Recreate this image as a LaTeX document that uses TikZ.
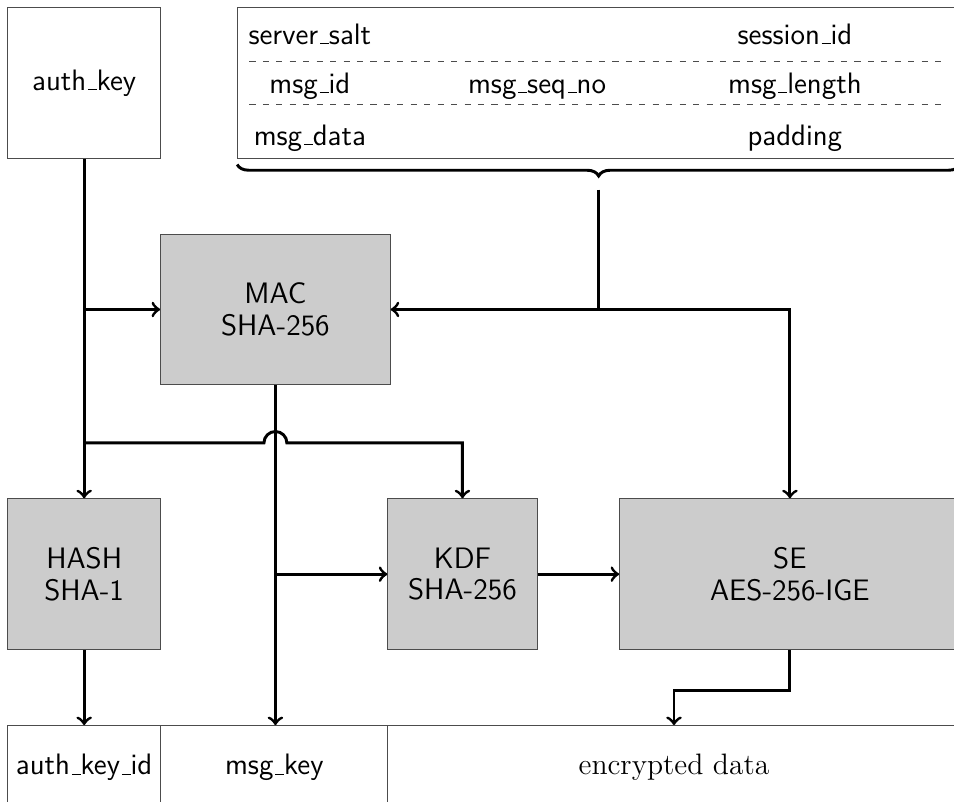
\documentclass[tikz,border=0pt]{standalone}
\usetikzlibrary{decorations.pathreplacing,calc}
\newcommand{\usc}{\leavevmode\kern.06em\vbox{\hrule width.3em}}
\tikzset{
  box/.style={draw=black!70,thin,rectangle,inner sep=0pt,align=center,font=\sffamily\fontsize{11}{11.8}\selectfont},
  proc/.style={box,fill=black!20},
  field/.style={font=\sffamily\fontsize{11}{11.8}\selectfont,text height=8pt,text depth=2.5pt},
  sep/.style={draw=black!70,thin,dash pattern=on 2.3pt off 2.7pt},
  conn/.style={line width=1.1pt,->},
}
\begin{document}
\begin{tikzpicture}
  \useasboundingbox (-0.1,0.1) rectangle (12.37,-10.37);

  \node (authkey) at (1,-0.985) [box,minimum width=2cm,minimum height=1.97cm]{auth\usc key};
  \node (payload) at (7.725,-0.985) [box,minimum width=9.45cm,minimum height=1.97cm]{};

  \node (salt) at (3.95,-0.38) [field]{server\usc salt};
  \node (session) at (10.29,-0.38) [field]{session\usc id};
  \node (msgid) at (3.95,-1.02) [field]{msg\usc id};
  \node (seqno) at (6.92,-1.02) [field]{msg\usc seq\usc no};
  \node (length) at (10.29,-1.02) [field]{msg\usc length};
  \node (data) at (3.95,-1.7) [field]{msg\usc data};
  \node (padding) at (10.29,-1.7) [field]{padding};
  \draw[sep] (3.16,-0.70) -- (12.2,-0.70);
  \draw[sep] (3.16,-1.27) -- (12.2,-1.27);

  \draw[line width=1.1pt,decorate,decoration={brace,mirror,amplitude=0.15cm}] (3,-2.05) -- (12.45,-2.05);
  \coordinate (tip) at (7.725,-2.38);

  \node (mac) at (3.5,-3.945) [proc,minimum width=3cm,minimum height=1.97cm]{MAC\\SHA-256};
  \node (hash) at (1,-7.405) [proc,minimum width=2cm,minimum height=1.97cm]{HASH\\SHA-1};
  \node (kdf) at (5.945,-7.405) [proc,minimum width=1.95cm,minimum height=1.97cm]{KDF\\SHA-256};
  \node (se) at (10.225,-7.405) [proc,minimum width=4.45cm,minimum height=1.97cm]{SE\\AES-256-IGE};

  \node (authkeyid) at (1,-9.935) [box,minimum width=2cm,minimum height=1.1cm]{auth\usc key\usc id};
  \node (msgkey) at (3.485,-9.935) [box,minimum width=2.97cm,minimum height=1.1cm]{msg\usc key};
  \node (encdata) at (8.71,-9.935) [box,minimum width=7.48cm,minimum height=1.1cm,font=\rmfamily\fontsize{11}{12.5}\selectfont]{encrypted data};

  \coordinate (join) at (tip |- mac.east);
  \coordinate (split) at (1,-5.69);

  \draw[conn] (authkey.south) -- (hash.north);
  \draw[conn] (authkey.south |- mac.west) -- (mac.west);
  \draw[conn] (split) -- ($(mac.south |- split)+(-0.15,0)$) arc (180:0:0.15) -| (kdf.north);
  \draw[conn] (mac.south) -- (mac.south |- msgkey.north);
  \draw[conn] (mac.south |- kdf.west) -- (kdf.west);
  \draw[conn] (kdf.east) -- (se.west);
  \draw[conn] (hash.south) -- (authkeyid.north);
  \draw[line width=1.1pt] (tip) -- (join);
  \draw[conn] (join) -- (mac.east);
  \draw[conn] (join) -| (se.north);
  \draw[conn] (se.south) -- ++(0,-0.53) -| (encdata.north);

\end{tikzpicture}
\end{document}
